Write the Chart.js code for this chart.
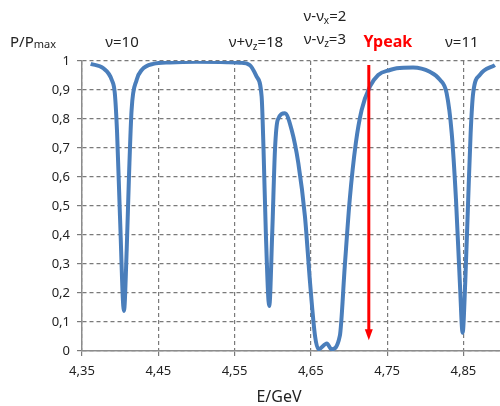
<!DOCTYPE html>
<html>
<head>
<meta charset="utf-8">
<script src="https://cdn.jsdelivr.net/npm/chart.js@4"></script>
<style>
  body { margin: 0; background: #fff; }
  #wrap { width: 500px; height: 406px; }
</style>
</head>
<body>
<div id="wrap"><canvas id="chartResonance"></canvas></div>
<script>
// energy (GeV) and relative polarization P/Pmax
const energia = [
  4.3614, 4.378, 4.389, 4.393, 4.396, 4.3998, 4.405, 4.4086, 4.4116, 4.415,
  4.4217, 4.4283, 4.4434, 4.465, 4.50, 4.54, 4.557, 4.570, 4.579, 4.5855,
  4.588, 4.591, 4.5955, 4.5994, 4.603, 4.6066, 4.616, 4.6248, 4.6336, 4.6423,
  4.649, 4.6555, 4.66, 4.671, 4.677, 4.688, 4.6945, 4.701, 4.709, 4.7166,
  4.7275, 4.7383, 4.7537, 4.7625, 4.784, 4.806, 4.8194, 4.828, 4.8347, 4.8403,
  4.8454, 4.849, 4.8524, 4.8563, 4.8595, 4.8628, 4.8716, 4.8913,
];
const polarizacao = [
  0.99, 0.975, 0.935, 0.889, 0.752, 0.464, 0.138, 0.35, 0.602, 0.831,
  0.935, 0.969, 0.99, 0.995, 0.997, 0.996, 0.994, 0.986, 0.946, 0.877,
  0.694, 0.408, 0.155, 0.408, 0.694, 0.797, 0.82, 0.763, 0.648, 0.464,
  0.235, 0.052, 0.006, 0.026, 0.006, 0.052, 0.292, 0.522, 0.717, 0.831,
  0.912, 0.952, 0.969, 0.975, 0.978, 0.963, 0.935, 0.889, 0.751, 0.522,
  0.235, 0.063, 0.235, 0.522, 0.751, 0.889, 0.952, 0.986,
];

const xTicks = [4.35, 4.45, 4.55, 4.65, 4.75, 4.85];

// resonance labels above the plot: [energy, baseline y, parts]
// parts: [text, isSubscript]
const rotulos = [
  [4.4024, 47, [["ν=10", false]]],
  [4.578, 47, [["ν+ν", false], ["z", true], ["=18", false]]],
  [4.6685, 21, [["ν-ν", false], ["x", true], ["=2", false]]],
  [4.6685, 44, [["ν-ν", false], ["z", true], ["=3", false]]],
  [4.848, 47, [["ν=11", false]]],
];

const yPeak = { energia: 4.726, topo: 0.986, ponta: 0.037 };

const FONTE = '"Noto Sans", "Liberation Sans", sans-serif';

function drawRich(ctx, parts, cx, baseline, size) {
  var subSize = Math.round(size * 0.68);
  var total = 0;
  parts.forEach(function (p) {
    ctx.font = (p[1] ? subSize : size) + "px " + FONTE;
    total += ctx.measureText(p[0]).width;
  });
  var x = cx - total / 2;
  parts.forEach(function (p) {
    ctx.font = (p[1] ? subSize : size) + "px " + FONTE;
    ctx.fillText(p[0], x, baseline + (p[1] ? 3 : 0));
    x += ctx.measureText(p[0]).width;
  });
}

const anotacoes = {
  id: "anotacoes",
  afterDraw(chart) {
    const ctx = chart.ctx;
    const xs = chart.scales.x;
    const ys = chart.scales.y;

    ctx.save();
    ctx.fillStyle = "#222";
    ctx.textAlign = "left";
    ctx.textBaseline = "alphabetic";

    rotulos.forEach(function (r) {
      drawRich(ctx, r[2], xs.getPixelForValue(r[0]), r[1], 15);
    });

    // P/Pmax
    ctx.font = "15px " + FONTE;
    ctx.fillText("P/P", 10, 47);
    var w = ctx.measureText("P/P").width;
    ctx.font = "11px " + FONTE;
    ctx.fillText("max", 10 + w, 48);

    // axis title
    ctx.font = "16px " + FONTE;
    ctx.textAlign = "center";
    ctx.fillText("E/GeV", 279, 402);

    // Ypeak arrow
    var ax = xs.getPixelForValue(yPeak.energia);
    var y0 = ys.getPixelForValue(yPeak.topo);
    var y1 = ys.getPixelForValue(yPeak.ponta);
    ctx.strokeStyle = "#ff0000";
    ctx.fillStyle = "#ff0000";
    ctx.lineWidth = 3;
    ctx.beginPath();
    ctx.moveTo(ax, y0);
    ctx.lineTo(ax, y1 - 8);
    ctx.stroke();
    ctx.beginPath();
    ctx.moveTo(ax - 4, y1 - 11);
    ctx.lineTo(ax + 4, y1 - 11);
    ctx.lineTo(ax, y1);
    ctx.closePath();
    ctx.fill();

    ctx.font = "bold 16px " + FONTE;
    ctx.textAlign = "center";
    ctx.fillText("Ypeak", xs.getPixelForValue(4.751), 47);
    ctx.restore();
  },
};

function virgula(v) {
  return String(Math.round(v * 100) / 100).replace(".", ",");
}

document.addEventListener("DOMContentLoaded", function () {
  var canvas = document.getElementById("chartResonance");
  var pontos = energia.map(function (e, i) {
    return { x: e, y: polarizacao[i] };
  });

  var gridCfg = {
    color: "#7a7a7a",
    lineWidth: 1.2,
    tickLength: 5,
  };

  new Chart(canvas, {
    type: "line",
    data: {
      datasets: [
        {
          data: pontos,
          borderColor: "rgb(74, 126, 187)",
          borderWidth: 4,
          pointRadius: 0,
          cubicInterpolationMode: "monotone",
          fill: false,
        },
      ],
    },
    options: {
      responsive: true,
      maintainAspectRatio: false,
      animation: false,
      layout: { padding: { top: 61, right: 0, left: 0, bottom: 0 } },
      plugins: {
        legend: { display: false },
        tooltip: { enabled: false },
      },
      scales: {
        x: {
          type: "linear",
          min: 4.35,
          max: 4.898,
          afterBuildTicks: function (s) {
            s.ticks = xTicks.map(function (v) { return { value: v }; });
          },
          afterFit: function (s) { s.height = 55; },
          ticks: {
            color: "#222",
            font: { family: FONTE, size: 13 },
            padding: 7,
            maxRotation: 0,
            callback: function (v) { return virgula(v); },
          },
          grid: gridCfg,
          border: { color: "#8c8c8c", width: 1.5, dash: [4, 3] },
        },
        y: {
          min: 0,
          max: 1,
          afterFit: function (s) { s.width = 82; },
          ticks: {
            stepSize: 0.1,
            color: "#222",
            font: { family: FONTE, size: 13 },
            padding: 7,
            callback: function (v) { return virgula(v); },
          },
          grid: gridCfg,
          border: { color: "#8c8c8c", width: 1.5, dash: [4, 3] },
        },
      },
    },
    plugins: [anotacoes],
  });
});
</script>
</body>
</html>
